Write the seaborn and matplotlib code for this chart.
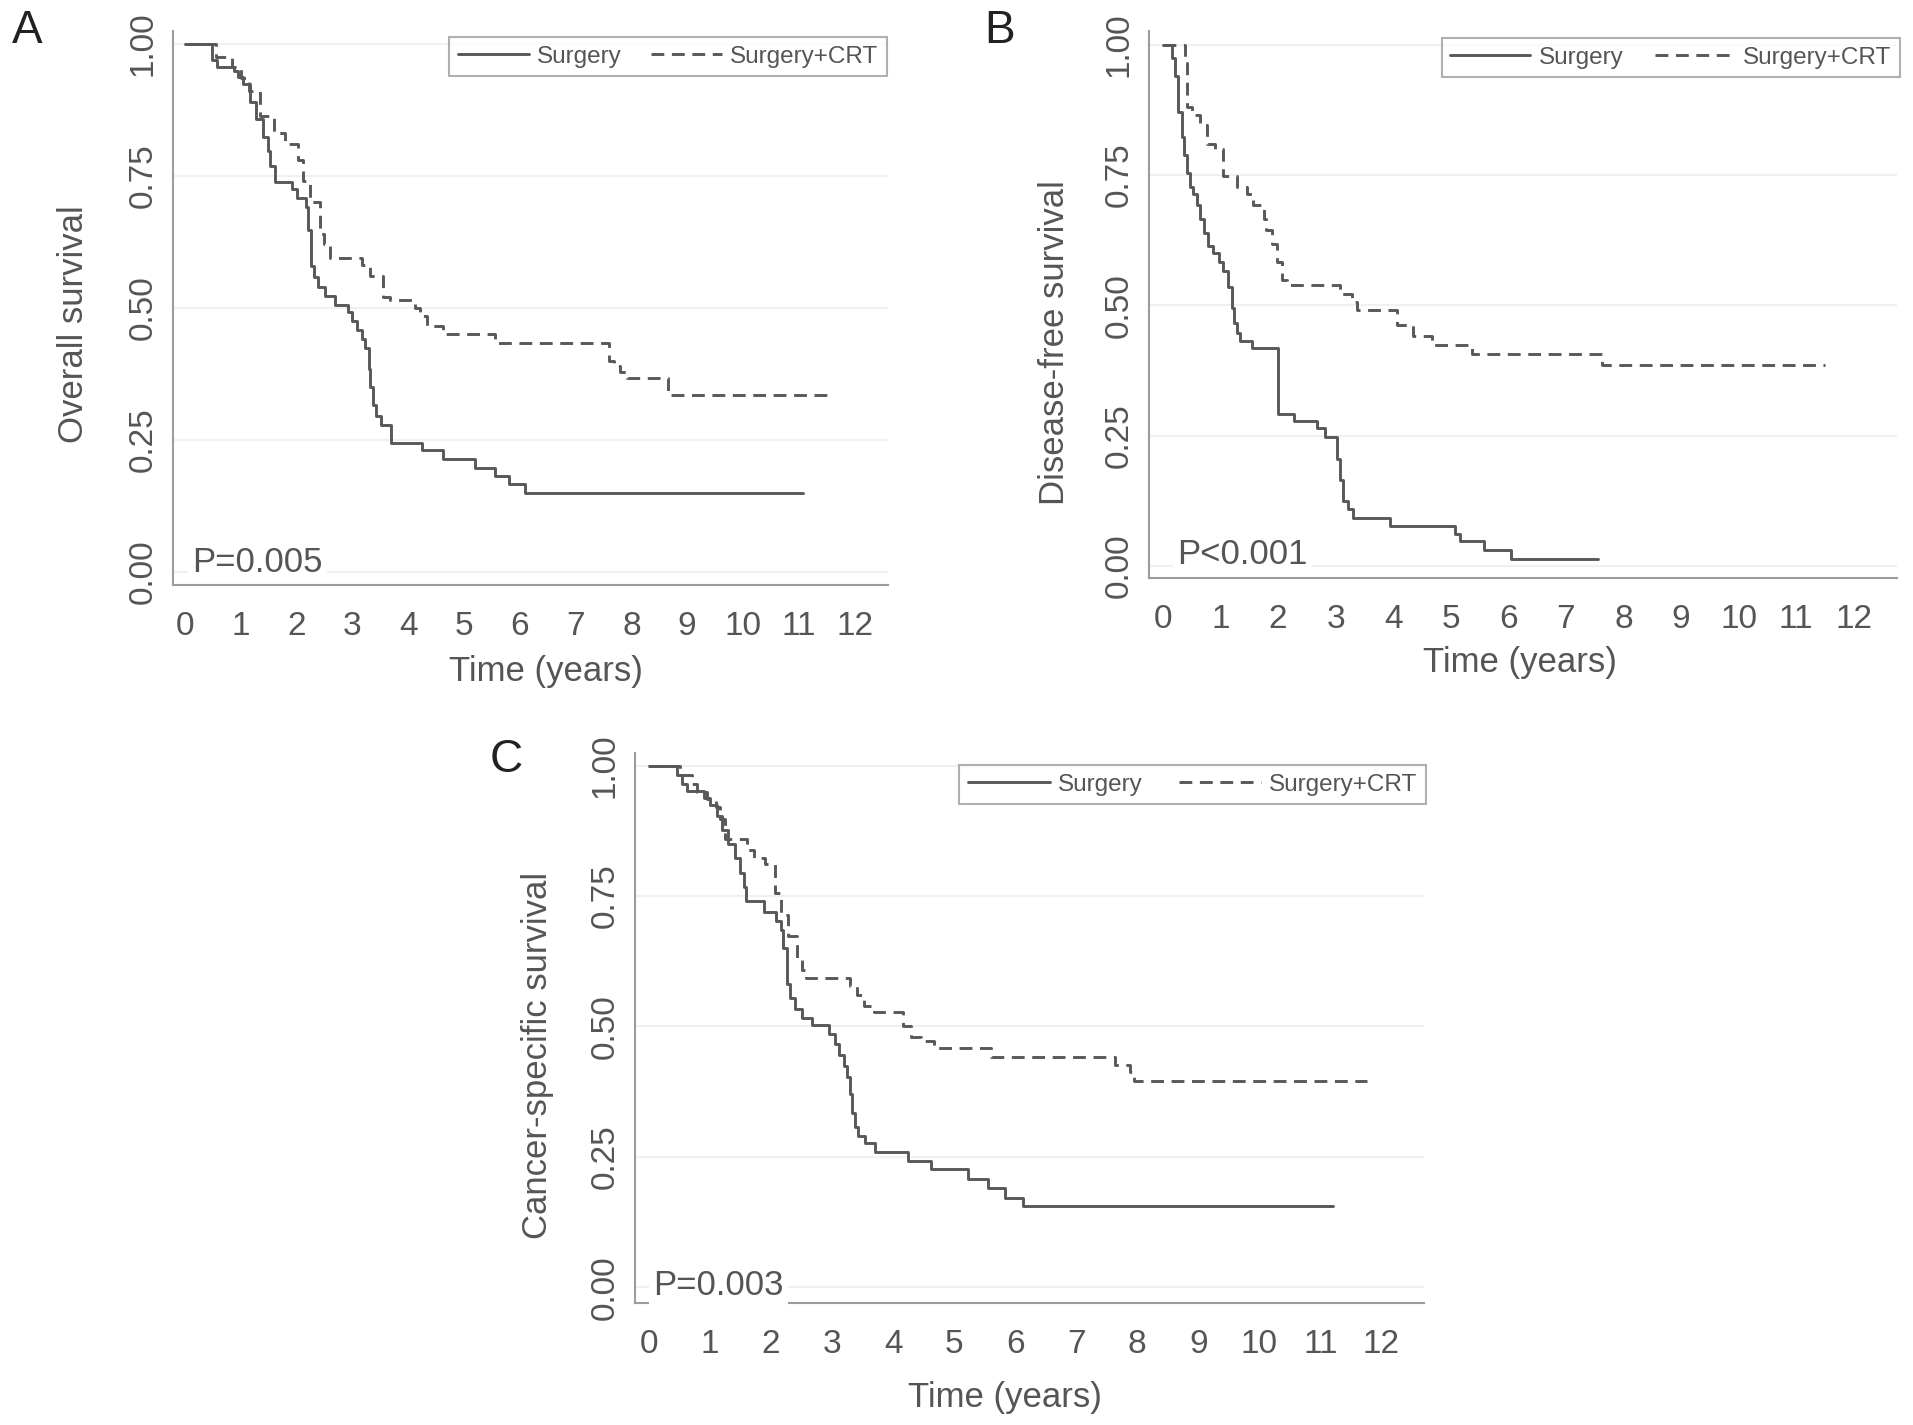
import matplotlib
matplotlib.use("Agg")
import matplotlib.pyplot as plt
import seaborn as sns

# Kaplan-Meier step points (time in years, survival)
years = list(range(0, 13))
surv_ticks = [0.0, 0.25, 0.5, 0.75, 1.0]
surv_tick_labels = ["0.00", "0.25", "0.50", "0.75", "1.00"]

# A: overall survival
a_surg_t = [0, 0.48, 0.57, 0.87, 0.95, 1.04, 1.16, 1.28, 1.4, 1.49, 1.52, 1.61, 1.91, 2.0,
            2.17, 2.21, 2.26, 2.32, 2.39, 2.51, 2.69, 2.92, 3.0, 3.08, 3.17, 3.23, 3.29, 3.32,
            3.37, 3.43, 3.52, 3.7, 4.24, 4.63, 5.2, 5.56, 5.8, 6.09, 11.07]
a_surg_s = [1.0, 0.969, 0.955, 0.948, 0.936, 0.924, 0.89, 0.857, 0.823, 0.796, 0.769, 0.738,
            0.724, 0.707, 0.69, 0.647, 0.579, 0.559, 0.539, 0.522, 0.505, 0.491, 0.474, 0.457,
            0.44, 0.423, 0.383, 0.35, 0.315, 0.295, 0.278, 0.244, 0.231, 0.214, 0.197, 0.181,
            0.166, 0.149, 0.149]
a_crt_t = [0, 0.55, 0.85, 1.0, 1.15, 1.35, 1.6, 1.8, 2.03, 2.12, 2.24, 2.42, 2.5, 2.6, 3.18,
           3.32, 3.55, 3.67, 4.12, 4.21, 4.33, 4.63, 5.55, 7.6, 7.68, 7.8, 7.92, 8.66, 11.56]
a_crt_s = [1.0, 0.975, 0.955, 0.935, 0.91, 0.863, 0.83, 0.81, 0.78, 0.74, 0.70, 0.64, 0.62,
           0.595, 0.58, 0.56, 0.52, 0.515, 0.50, 0.485, 0.465, 0.45, 0.434, 0.40, 0.39, 0.378,
           0.366, 0.334, 0.334]

# B: disease-free survival
b_surg_t = [0, 0.16, 0.21, 0.27, 0.33, 0.36, 0.42, 0.47, 0.53, 0.59, 0.65, 0.71, 0.79, 0.88,
            0.97, 1.05, 1.14, 1.2, 1.24, 1.28, 1.34, 1.55, 2.0, 2.27, 2.67, 2.82, 3.03, 3.08,
            3.13, 3.22, 3.31, 3.95, 5.08, 5.16, 5.57, 6.04, 7.56]
b_surg_s = [1.0, 0.974, 0.94, 0.871, 0.823, 0.789, 0.754, 0.727, 0.713, 0.693, 0.665, 0.638,
            0.614, 0.60, 0.583, 0.566, 0.535, 0.494, 0.466, 0.447, 0.432, 0.418, 0.292, 0.278,
            0.265, 0.247, 0.206, 0.165, 0.124, 0.11, 0.093, 0.077, 0.062, 0.047, 0.031, 0.014,
            0.014]
b_crt_t = [0, 0.38, 0.42, 0.5, 0.65, 0.76, 0.9, 1.04, 1.28, 1.46, 1.57, 1.75, 1.8, 1.89, 1.98,
           2.07, 2.15, 3.08, 3.28, 3.37, 4.06, 4.35, 4.68, 5.37, 7.62, 11.5]
b_crt_s = [1.0, 0.965, 0.88, 0.865, 0.845, 0.81, 0.8, 0.748, 0.727, 0.713, 0.693, 0.665, 0.645,
           0.617, 0.583, 0.549, 0.539, 0.521, 0.507, 0.49, 0.462, 0.442, 0.424, 0.407, 0.385,
           0.385]

# C: cancer-specific survival
c_surg_t = [0, 0.46, 0.54, 0.62, 0.9, 1.0, 1.11, 1.19, 1.3, 1.41, 1.49, 1.55, 1.59, 1.88, 2.08,
            2.16, 2.2, 2.26, 2.31, 2.39, 2.5, 2.67, 2.95, 3.04, 3.11, 3.19, 3.24, 3.3, 3.33,
            3.38, 3.43, 3.54, 3.7, 4.24, 4.62, 5.22, 5.55, 5.83, 6.13, 11.21]
c_surg_s = [1.0, 0.982, 0.965, 0.951, 0.938, 0.924, 0.904, 0.876, 0.849, 0.822, 0.794, 0.767,
            0.74, 0.719, 0.702, 0.685, 0.65, 0.582, 0.555, 0.534, 0.517, 0.503, 0.486, 0.466,
            0.445, 0.424, 0.404, 0.37, 0.335, 0.308, 0.291, 0.277, 0.26, 0.243, 0.226, 0.207,
            0.19, 0.172, 0.156, 0.156]
c_crt_t = [0, 0.5, 0.7, 0.78, 0.95, 1.1, 1.16, 1.25, 1.6, 1.72, 1.9, 2.07, 2.17, 2.28, 2.42,
           2.5, 2.58, 3.3, 3.4, 3.52, 3.68, 4.17, 4.3, 4.45, 4.67, 5.6, 7.63, 7.88, 7.95, 11.77]
c_crt_s = [1.0, 0.982, 0.965, 0.95, 0.935, 0.92, 0.897, 0.86, 0.839, 0.822, 0.811, 0.756, 0.714,
           0.673, 0.632, 0.608, 0.592, 0.578, 0.561, 0.54, 0.527, 0.50, 0.479, 0.472, 0.459,
           0.442, 0.426, 0.413, 0.395, 0.395]

sns.set_theme(style="white")
plt.rcParams["font.family"] = ["Liberation Sans", "DejaVu Sans"]

LINE = "#585858"
TXT = "#555555"
AXC = "#9c9c9c"

panels = [
    dict(letter="A", lpos=(27, 31), rect=[0.09044, 0.5895, 0.37376, 0.38877],
         xlim=(-0.215, 12.6), ylim=(-0.025, 1.024), ylabel="Overall survival",
         ylab=(-0.139, 0.47), xlab=(0.521, -0.157), p="P=0.005", ppos=(0.13, 0.0),
         leg=(0.9986, 0.989), hl=2.92, cs=1.19,
         surg=(a_surg_t, a_surg_s), crt=(a_crt_t, a_crt_s)),
    dict(letter="B", lpos=(1000, 31), rect=[0.60063, 0.59439, 0.39101, 0.38386],
         xlim=(-0.24, 12.75), ylim=(-0.023, 1.026), ylabel="Disease-free survival",
         ylab=(-0.127, 0.431), xlab=(0.496, -0.155), p="P<0.001", ppos=(0.25, 0.004),
         leg=(1.004, 0.987), hl=3.29, cs=1.28,
         surg=(b_surg_t, b_surg_s), crt=(b_crt_t, b_crt_s)),
    dict(letter="C", lpos=(506, 760), rect=[0.33194, 0.08561, 0.41244, 0.38596],
         xlim=(-0.23, 12.7), ylim=(-0.03, 1.024), ylabel="Cancer-specific survival",
         ylab=(-0.124, 0.45), xlab=(0.469, -0.172), p="P=0.003", ppos=(0.07, -0.015),
         leg=(1.0025, 0.978), hl=3.37, cs=1.48,
         surg=(c_surg_t, c_surg_s), crt=(c_crt_t, c_crt_s)),
]

fig = plt.figure(figsize=(19.13, 14.25), dpi=100)

for pn in panels:
    ax = fig.add_axes(pn["rect"])
    sns.lineplot(x=pn["surg"][0], y=pn["surg"][1], ax=ax, color=LINE, lw=2.1,
                 drawstyle="steps-post", estimator=None, label="Surgery")
    sns.lineplot(x=pn["crt"][0], y=pn["crt"][1], ax=ax, color=LINE, lw=2.1,
                 linestyle=(0, (4.4, 2.6)), drawstyle="steps-post", estimator=None,
                 label="Surgery+CRT")

    ax.set_xlim(*pn["xlim"])
    ax.set_ylim(*pn["ylim"])
    ax.set_xticks(years)
    ax.set_xticklabels([str(v) for v in years])
    ax.set_yticks(surv_ticks)
    ax.set_yticklabels(surv_tick_labels, rotation=90, va="center")
    ax.yaxis.grid(True, color="#f0f0f0", lw=1.5)
    ax.xaxis.grid(False)
    ax.set_axisbelow(True)
    for side in ["top", "right"]:
        ax.spines[side].set_visible(False)
    for side in ["left", "bottom"]:
        ax.spines[side].set_color(AXC)
        ax.spines[side].set_linewidth(1.5)
    ax.tick_params(axis="both", direction="out", length=6.5, width=1.2, color=AXC,
                   labelsize=24, labelcolor=TXT)
    ax.tick_params(axis="x", pad=12)
    ax.tick_params(axis="y", pad=4)

    ax.set_xlabel("Time (years)", fontsize=25, color=TXT, va="center")
    ax.xaxis.set_label_coords(*pn["xlab"])
    ax.set_ylabel(pn["ylabel"], fontsize=25, color=TXT, va="center")
    ax.yaxis.set_label_coords(*pn["ylab"])

    ax.text(pn["ppos"][0], pn["ppos"][1], pn["p"], fontsize=25, color=TXT, va="baseline",
            bbox=dict(fc="white", ec="none", pad=3))

    leg = ax.legend(loc="upper right", bbox_to_anchor=pn["leg"], borderaxespad=0, ncol=2,
                    frameon=True, fancybox=False, edgecolor=AXC, handlelength=pn["hl"],
                    handletextpad=0.35, columnspacing=pn["cs"], borderpad=0.35,
                    prop=dict(family=["Liberation Sans Narrow", "Liberation Sans"], size=17.5))
    leg.get_frame().set_linewidth(1.5)
    for t in leg.get_texts():
        t.set_color(TXT)

    fig.text(pn["lpos"][0] / 1913, 1 - pn["lpos"][1] / 1425, pn["letter"], fontsize=33,
             ha="center", va="center", color="#222222")

fig.savefig("out.png", dpi=100, facecolor="white")
